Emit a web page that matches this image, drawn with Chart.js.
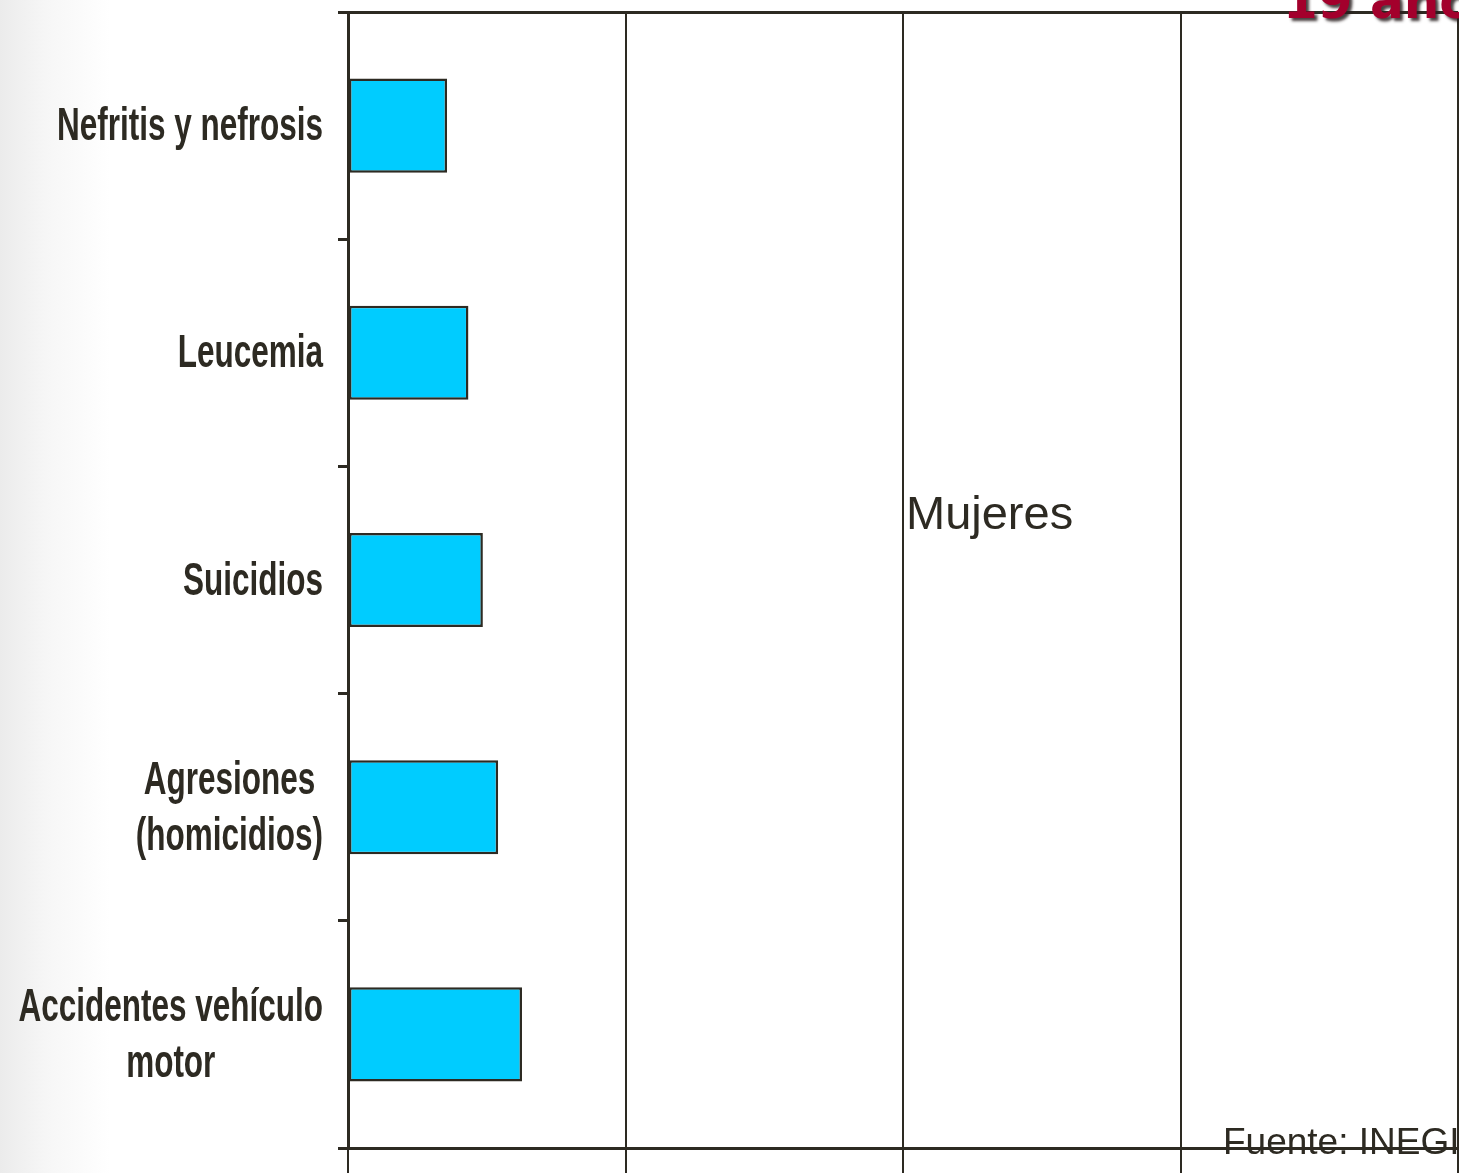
<!DOCTYPE html>
<html>
<head>
<meta charset="utf-8">
<script src="https://cdn.jsdelivr.net/npm/chart.js@4/dist/chart.umd.min.js"></script>
<style>
  html, body { margin: 0; padding: 0; }
  body {
    width: 1459px; height: 1173px; overflow: hidden;
    background: linear-gradient(to right, #ebebeb 0px, #f6f6f6 45px, #ffffff 110px);
  }
  #wrap { position: relative; width: 1459px; height: 1173px; }
  canvas { position: absolute; left: 0; top: 0; }
</style>
</head>
<body>
<div id="wrap"><canvas id="c" width="1459" height="1173"></canvas></div>
<script>
// Data
const categories = [
  ["Nefritis y nefrosis"],
  ["Leucemia"],
  ["Suicidios"],
  ["Agresiones", "(homicidios)"],
  ["Accidentes vehículo", "motor"]
];
const mujeresValues = [357, 434, 486, 541, 627];
const xTickValues = [0, 1000, 2000, 3000, 4000];
const seriesLabel = "Mujeres";
const titleText = "19 año";
const sourceText = "Fuente: INEGI";

const INK = "#2d2a22";

const labelPlugin = {
  id: "catLabels",
  afterDraw(chart) {
    const ctx = chart.ctx;
    const yScale = chart.scales.y;
    ctx.save();
    ctx.fillStyle = INK;
    ctx.font = "bold 46px 'Liberation Sans Narrow', 'Liberation Sans', Arial, sans-serif";
    ctx.textBaseline = "middle";
    const ref = ctx.measureText("Nefritis y nefrosis").width;
    const sx = 266 / ref;
    const rightEdge = 323;
    const lineH = 56;
    categories.forEach((lines, i) => {
      const cy = yScale.getPixelForValue(i);
      let widest = 0;
      lines.forEach(l => { widest = Math.max(widest, ctx.measureText(l).width * sx); });
      const cx = rightEdge - widest / 2;
      lines.forEach((l, j) => {
        const y = cy + (j - (lines.length - 1) / 2) * lineH + 2;
        ctx.save();
        ctx.translate(cx, y);
        ctx.scale(sx, 1);
        ctx.textAlign = "center";
        ctx.fillText(l, 0, 0);
        ctx.restore();
      });
    });

    // Series label
    ctx.font = "47px 'Liberation Sans', Arial, sans-serif";
    ctx.textAlign = "left";
    ctx.textBaseline = "alphabetic";
    ctx.fillText(seriesLabel, 906, 529);

    // Source
    ctx.font = "37px 'Liberation Sans', Arial, sans-serif";
    ctx.fillText(sourceText, 1223, 1154);

    // Title (cut off)
    ctx.font = "bold 50px 'DejaVu Sans', Verdana, sans-serif";
    ctx.shadowColor = "rgba(40,30,30,0.85)";
    ctx.shadowOffsetX = 3;
    ctx.shadowOffsetY = 3;
    ctx.shadowBlur = 3;
    ctx.fillStyle = "#a3002c";
    ctx.fillText(titleText, 1283, 18);
    ctx.restore();
  }
};

new Chart(document.getElementById("c"), {
  type: "bar",
  data: {
    labels: categories,
    datasets: [{
      label: seriesLabel,
      data: mujeresValues,
      backgroundColor: "#00ccff",
      borderColor: INK,
      borderWidth: 2.5,
      borderSkipped: false,
      barPercentage: 0.414,
      categoryPercentage: 1.0
    }]
  },
  options: {
    indexAxis: "y",
    responsive: false,
    animation: false,
    devicePixelRatio: 1,
    layout: { padding: { left: 338, top: 12, right: 1, bottom: 0 } },
    plugins: { legend: { display: false }, tooltip: { enabled: false } },
    scales: {
      x: {
        position: "bottom",
        min: xTickValues[0],
        max: xTickValues[xTickValues.length - 1],
        afterBuildTicks(scale) { scale.ticks = xTickValues.map(v => ({ value: v })); },
        ticks: { display: false },
        grid: { color: INK, lineWidth: 2, drawTicks: true, tickLength: 25 },
        border: { display: true, color: INK, width: 3 }
      },
      y: {
        position: "left",
        ticks: { display: false },
        grid: {
          color: (c) => (c.index === 0 ? INK : "rgba(0,0,0,0)"),
          tickColor: INK,
          lineWidth: 3,
          offset: true,
          drawTicks: true,
          tickLength: 10
        },
        border: { display: true, color: INK, width: 3 }
      }
    }
  },
  plugins: [labelPlugin]
});
</script>
</body>
</html>
